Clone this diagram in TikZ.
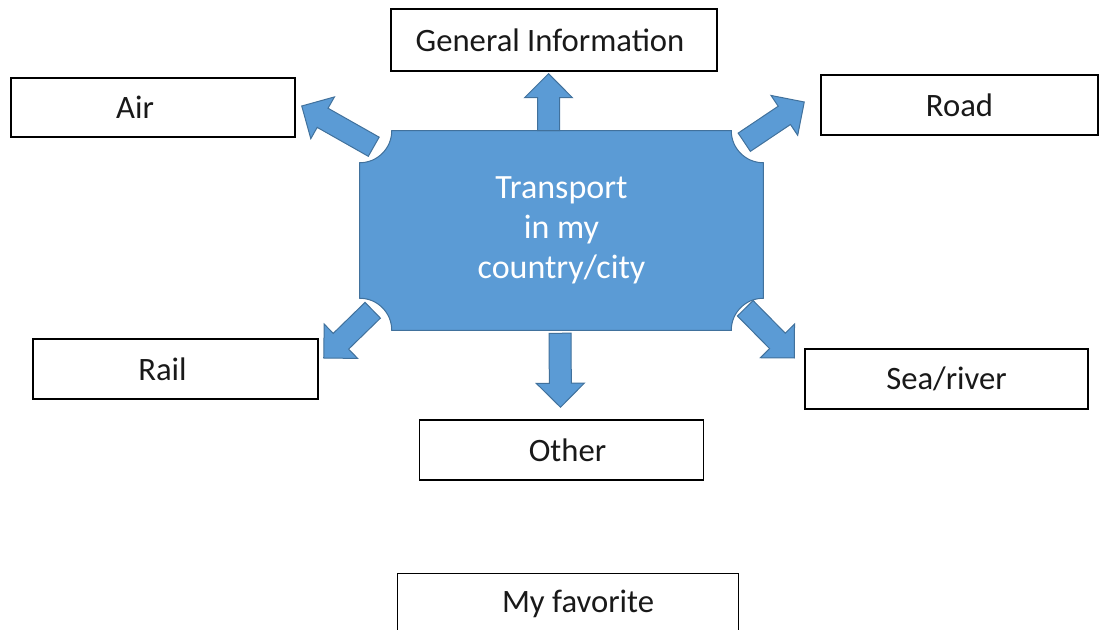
\documentclass[tikz,border=0pt]{standalone}
\usepackage{fontspec}
\setmainfont{Carlito}
\usepackage{tikz}
\usetikzlibrary{positioning, calc, backgrounds}
\definecolor{hubblue}{RGB}{91,155,213}
\definecolor{hubedge}{RGB}{65,113,156}

\newcommand{\flowarrow}[2]{%
  \filldraw[fat] ($(#1)!8.25pt!90:(#2)$)
    -- ($(#2)!18pt!(#1)!8.25pt!-90:(#1)$)
    -- ($(#2)!18pt!(#1)!18pt!-90:(#1)$)
    -- (#2)
    -- ($(#2)!18pt!(#1)!18pt!90:(#1)$)
    -- ($(#2)!18pt!(#1)!8.25pt!90:(#1)$)
    -- ($(#1)!8.25pt!-90:(#2)$) -- cycle;}

\begin{document}
\begin{tikzpicture}[
    x=0.75pt, y=-0.75pt,
    font=\fontsize{24.5}{30}\selectfont,
    box/.style={rectangle, draw=black, line width=1.1pt, fill=white,
                minimum width=213pt, minimum height=45pt, inner sep=0pt, text=black!90},
    hub/.style={minimum width=302.25pt, minimum height=149.25pt,
                align=center, text=white, inner sep=0pt, font=\fontsize{25.5}{30}\selectfont},
    fat/.style={fill=hubblue, draw=hubedge, line width=0.75pt}
]
    \useasboundingbox (0,0) rectangle (1099,630);
    \clip (0,0) rectangle (1099,630);

    % Nodes
    \node[hub] (hub) at (561.5,230.5) {Transport\\in my\\country/city};
    \node[box, minimum width=244.5pt, minimum height=46.5pt, above=44.25pt of hub, xshift=-5.6pt] (general) {\hspace*{-6pt}General Information};
    \node[box, minimum height=44.25pt] (air) at (153,107.5) {\hspace*{-27pt}Air};
    \node[box, minimum width=207.75pt] (road) at (959.5,105) {Road};
    \node[box, minimum width=213.75pt] (rail) at (175.5,369) {\hspace*{-19.5pt}Rail};
    \node[box, minimum width=212.25pt] (sea) at (946.5,379) {Sea/river};
    \node[box, below=66.75pt of hub] (other) {\hspace*{9pt}Other};
    \node[box, minimum width=255.75pt, below=69pt of other, xshift=4.9pt] (favorite) {\hspace*{15pt}My favorite};

    % Central plaque
    \begin{scope}[on background layer]
        \filldraw[fat] ([xshift=24pt]hub.north west) -- ([xshift=-24pt]hub.north east)
            arc[start angle=180, end angle=270, radius=24pt] -- ([yshift=24pt]hub.south east)
            arc[start angle=90, end angle=180, radius=24pt] -- ([xshift=24pt]hub.south west)
            arc[start angle=0, end angle=90, radius=24pt] -- ([yshift=-24pt]hub.north west)
            arc[start angle=270, end angle=360, radius=24pt] -- cycle;
    \end{scope}

    % Arrow ends
    \coordinate (generalA) at ($(hub.north)+(-13,0)$);
    \coordinate (generalB) at ($(general.south)+(-5.5,2)$);
    \coordinate (airA) at ($(hub.north west)+(14,16)$);
    \coordinate (airB) at ($(air.east)+(6,-1.5)$);
    \coordinate (roadA) at ($(hub.north east)+(-19,11.5)$);
    \coordinate (roadB) at ($(road.west)+(-16,-3)$);
    \coordinate (railA) at ($(hub.south west)+(13,-20)$);
    \coordinate (railB) at ($(rail.east)+(5,-11)$);
    \coordinate (seaA) at ($(hub.south east)+(-18,-22)$);
    \coordinate (seaB) at ($(sea.west)+(-10,-21)$);
    \coordinate (otherA) at ($(hub.south)+(-1.5,3)$);
    \coordinate (otherB) at ($(other.north)+(-1,-12)$);

    % Arrows
    \flowarrow{generalA}{generalB}
    \flowarrow{airA}{airB}
    \flowarrow{roadA}{roadB}
    \flowarrow{railA}{railB}
    \flowarrow{seaA}{seaB}
    \flowarrow{otherA}{otherB}
\end{tikzpicture}
\end{document}
